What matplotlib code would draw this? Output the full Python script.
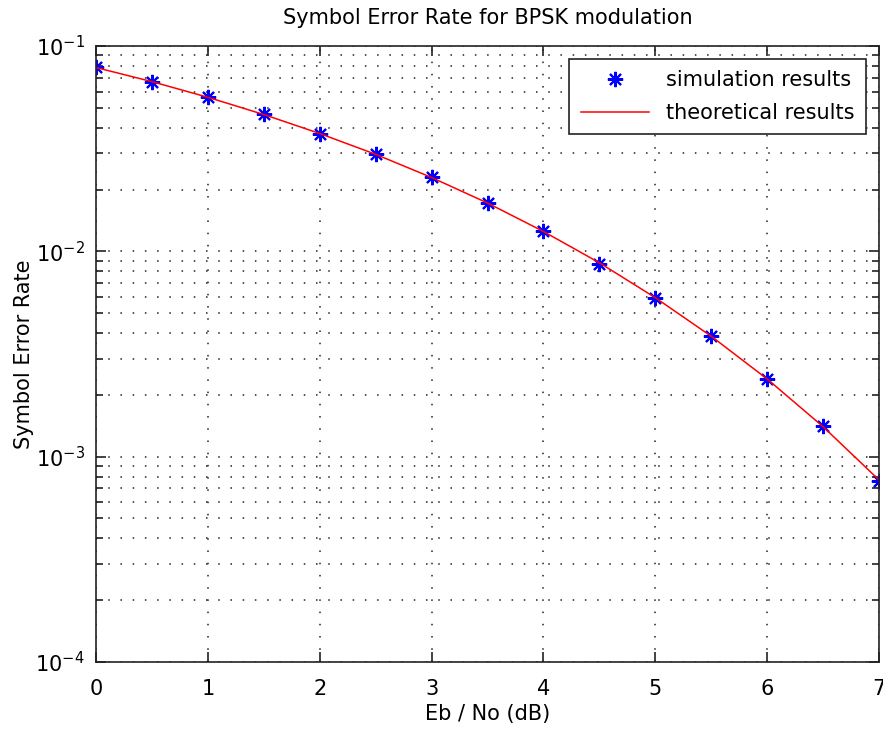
import matplotlib
matplotlib.use("Agg")
import matplotlib.pyplot as plt
from matplotlib.ticker import LogLocator, NullFormatter

plt.rcParams["font.family"] = ["DejaVu Sans"]
plt.rcParams["mathtext.default"] = "regular"

ebno_db = [0, 0.5, 1, 1.5, 2, 2.5, 3, 3.5, 4, 4.5, 5, 5.5, 6, 6.5, 7]
ser_sim = [0.0790, 0.0668, 0.0565, 0.0466, 0.0374, 0.0297, 0.0230, 0.0172,
           0.0125, 0.0087, 0.0059, 0.00385, 0.00240, 0.00141, 0.00076]
ser_theory = [0.0786, 0.0671, 0.0563, 0.0464, 0.0375, 0.0297, 0.0229, 0.0172,
              0.0125, 0.0088, 0.00595, 0.00386, 0.00239, 0.00140, 0.00077]

fig = plt.figure(figsize=(8.83, 7.31), dpi=100)
ax = fig.add_axes([0.1087, 0.0944, 0.8868, 0.8426])

ax.semilogy(ebno_db, ser_sim, color="blue", marker=(8, 2, 0), linestyle="none",
            markersize=11, markeredgewidth=1.5, label="simulation results")
ax.semilogy(ebno_db, ser_theory, "r-", linewidth=1.1, label="theoretical results")

ax.set_xlim(0, 7)
ax.set_ylim(1e-4, 1e-1)
ax.yaxis.set_major_locator(LogLocator(base=10))
ax.yaxis.set_minor_locator(LogLocator(base=10, subs=range(2, 10)))
ax.yaxis.set_minor_formatter(NullFormatter())

grid_style = dict(linestyle=(0, (1, 7)), color="#222222", linewidth=1.1)
ax.grid(True, which="major", **grid_style)
ax.grid(True, which="minor", axis="y", **grid_style)

for s in ax.spines.values():
    s.set_linewidth(1.2)
    s.set_color("#222222")

ax.tick_params(which="both", direction="in", top=True, right=True, labelsize=15,
               color="#222222", width=1.2)
ax.tick_params(which="major", length=7)
ax.tick_params(which="minor", length=5)
ax.tick_params(axis="x", pad=12)
ax.tick_params(axis="y", pad=8)

ax.set_title("Symbol Error Rate for BPSK modulation", fontsize=15, pad=16)
ax.set_xlabel("Eb / No (dB)", fontsize=15, labelpad=4)
ax.set_ylabel("Symbol Error Rate", fontsize=15, labelpad=1)

leg = ax.legend(loc="upper right", fontsize=15, fancybox=False, framealpha=1,
                edgecolor="#222222", borderaxespad=0.62, handlelength=3.3,
                labelspacing=0.6, borderpad=0.55)
leg.get_frame().set_linewidth(1.2)

fig.savefig("out.png", dpi=100)
